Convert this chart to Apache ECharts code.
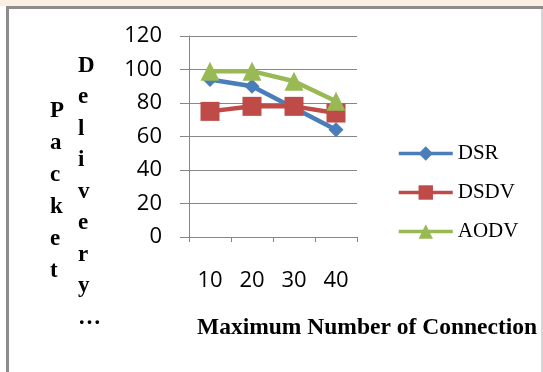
<!DOCTYPE html>
<html>
<head>
<meta charset="utf-8">
<script src="https://cdn.jsdelivr.net/npm/echarts@6/dist/echarts.min.js"></script>
<style>
  html, body { margin: 0; padding: 0; background: #ffffff; }
  #chart { width: 543px; height: 372px; }
</style>
</head>
<body>
<div id="chart"></div>
<script>
// Connection counts on the horizontal axis
const categories = ['10', '20', '30', '40'];
// Packet delivery per routing protocol
const dsrValues = [94, 90, 77, 64];
const dsdvValues = [75, 78, 78, 74];
const aodvValues = [99, 99, 93, 81];
// Value axis range
const yMin = 0, yMax = 120, yStep = 20;

const serif = '"Liberation Serif", "Times New Roman", serif';
const sans = '"Open Sans", "Liberation Sans", sans-serif';
const gridColor = '#878787';

const chart = echarts.init(document.getElementById('chart'), null, { renderer: 'canvas' });

function lineSeries(name, data, color, symbol, size) {
  return {
    name: name,
    type: 'line',
    data: data,
    symbol: symbol,
    symbolSize: size,
    showAllSymbol: true,
    lineStyle: { color: color, width: 4.5 },
    itemStyle: { color: color },
    emphasis: { disabled: true },
    z: 3
  };
}

chart.setOption({
  animation: false,
  backgroundColor: '#ffffff',
  grid: { left: 189, top: 36, width: 168, height: 201, containLabel: false },
  xAxis: {
    type: 'category',
    data: categories,
    boundaryGap: true,
    axisLine: { show: true, lineStyle: { color: gridColor, width: 1 } },
    axisTick: { show: true, length: 5, alignWithLabel: false, lineStyle: { color: gridColor } },
    axisLabel: { margin: 33, color: '#000', fontFamily: sans, fontSize: 22 },
    splitLine: { show: false }
  },
  yAxis: {
    type: 'value',
    min: yMin, max: yMax, interval: yStep,
    axisLine: { show: true, lineStyle: { color: gridColor, width: 1 } },
    axisTick: { show: true, length: 9, lineStyle: { color: gridColor } },
    axisLabel: { margin: 27, color: '#000', fontFamily: sans, fontSize: 22 },
    splitLine: { show: true, lineStyle: { color: gridColor, width: 1 } }
  },
  legend: {
    orient: 'vertical',
    left: 392,
    top: 138,
    itemWidth: 54,
    itemHeight: 18,
    itemGap: 18,
    lineStyle: { width: 3.5 },
    textStyle: { fontFamily: serif, fontSize: 21, color: '#000', padding: [0, 0, 0, 0] },
    data: ['DSR', 'DSDV', 'AODV']
  },
  series: [
    lineSeries('DSR', dsrValues, '#4a7ebb', 'diamond', 15),
    lineSeries('DSDV', dsdvValues, '#be4b48', 'rect', 19),
    lineSeries('AODV', aodvValues, '#98b954', 'triangle', 19)
  ],
  graphic: [
    // pale band above the frame
    { type: 'rect', shape: { x: 0, y: 0, width: 543, height: 6 },
      style: { fill: '#fbefe4' }, silent: true },
    // frame edges
    { type: 'rect', shape: { x: 6, y: 6, width: 537, height: 3 },
      style: { fill: '#8c8c8c' }, silent: true },
    { type: 'rect', shape: { x: 6, y: 6, width: 3, height: 366 },
      style: { fill: '#8c8c8c' }, silent: true },
    { type: 'rect', shape: { x: 541, y: 9, width: 2, height: 363 },
      style: { fill: '#d6d6d6' }, silent: true },
    // vertical axis title, one letter per line in two columns
    { type: 'text', left: 50, top: 95,
      style: { text: 'P\na\nc\nk\ne\nt', font: 'bold 23px ' + serif, fill: '#000',
               lineHeight: 32, align: 'center' }, silent: true },
    { type: 'text', left: 78, top: 50,
      style: { text: 'D\ne\nl\ni\nv\ne\nr\ny\n\u2026', font: 'bold 23px ' + serif, fill: '#000',
               lineHeight: 31.5, align: 'center' }, silent: true },
    // horizontal axis title
    { type: 'text', left: 197, top: 316,
      style: { text: 'Maximum Number of Connection', font: 'bold 23.5px ' + serif, fill: '#000' },
      silent: true }
  ]
});
</script>
</body>
</html>
